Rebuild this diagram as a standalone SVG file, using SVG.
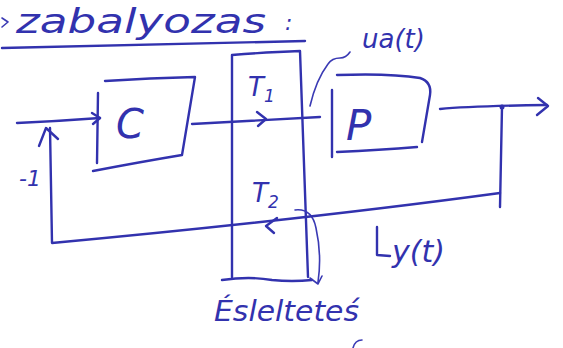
<svg xmlns="http://www.w3.org/2000/svg" width="563" height="348" viewBox="0 0 563 348">
<style>
.ink{fill:none;stroke:#3232ae;stroke-width:2.4;stroke-linecap:round;stroke-linejoin:round}
.thin{fill:none;stroke:#3a3ab4;stroke-width:1.6;stroke-linecap:round;stroke-linejoin:round}
.t{font-family:"DejaVu Sans","Liberation Sans",sans-serif;fill:#3232ae;font-style:oblique}
</style>
<rect width="563" height="348" fill="#ffffff"/>
<g id="title">
<path class="thin" d="M2,18 L8,22 L2,27"/>
<text class="t" x="16" y="33" font-size="34" textLength="250" lengthAdjust="spacingAndGlyphs">zabalyozas</text>
<text class="t" x="285" y="30" font-size="22">:</text>
<path class="ink" d="M2,48 Q150,44 305,41"/>
</g>
<g id="C">
<path class="ink" d="M105,81 Q150,78 195,77 L182,155 Q140,162 93,171 M98,93 L97,163"/>
<text class="t" x="116" y="138" font-size="40" font-style="normal">C</text>
</g>
<g id="switch">
<path class="ink" d="M232,55 Q270,52 300,51 L308,277 M232,55 L232,277 M222,280 Q250,276 272,280 Q292,282 312,280"/>
<text class="t" x="248" y="96" font-size="26" font-style="normal">T<tspan font-size="17" dy="6">1</tspan></text>
<text class="t" x="252" y="202" font-size="26" font-style="normal">T<tspan font-size="17" dy="6">2</tspan></text>
</g>
<g id="P">
<path class="ink" d="M337,75 Q390,73 420,78 Q432,82 430,95 L422,142 M337,152 Q380,150 417,147 M332,90 L332,157"/>
<text class="t" x="346" y="140" font-size="42" font-style="normal">P</text>
</g>
<g id="labels">
<text class="t" x="362" y="48" font-size="26">ua(t)</text>
<path class="thin" d="M350,52 Q346,58 340,58 Q332,58 328,64 Q316,80 310,106"/>
<text class="t" x="19" y="186" font-size="22" font-style="normal">-1</text>
<path class="ink" d="M377,227 L377,255 L390,256"/>
<text class="t" x="392" y="262" font-size="30">y(t)</text>
<text class="t" x="214" y="321" font-size="28" textLength="145" lengthAdjust="spacingAndGlyphs">Éslelteteś</text>
<path class="thin" d="M295,210 Q312,208 316,228 Q322,255 318,282 M310,278 L318,284 L322,276"/>
<path class="thin" d="M353,348 Q355,340 362,340"/>
</g>
<g id="connectors">
<path class="ink" d="M17,123 Q60,121 100,118"/>
<path class="ink" d="M92,113 L100,118 L93,124"/>
<path class="ink" d="M192,124 Q260,120 320,117"/>
<path class="ink" d="M257,112 L266,119 L258,126" stroke-width="3"/>
<path class="ink" d="M440,109 Q470,106 547,105"/>
<path class="ink" d="M538,98 L548,106 L537,115"/>
<circle cx="502" cy="107" r="2.5" fill="#3232ae"/>
<path class="ink" d="M502,107 L500,207"/>
<path class="ink" d="M500,193 Q300,220 52,243 L50,128"/>
<path class="ink" d="M39,146 L46,128 L58,139"/>
<path class="ink" d="M277,218 L266,226 L274,233"/>
</g>
</svg>
